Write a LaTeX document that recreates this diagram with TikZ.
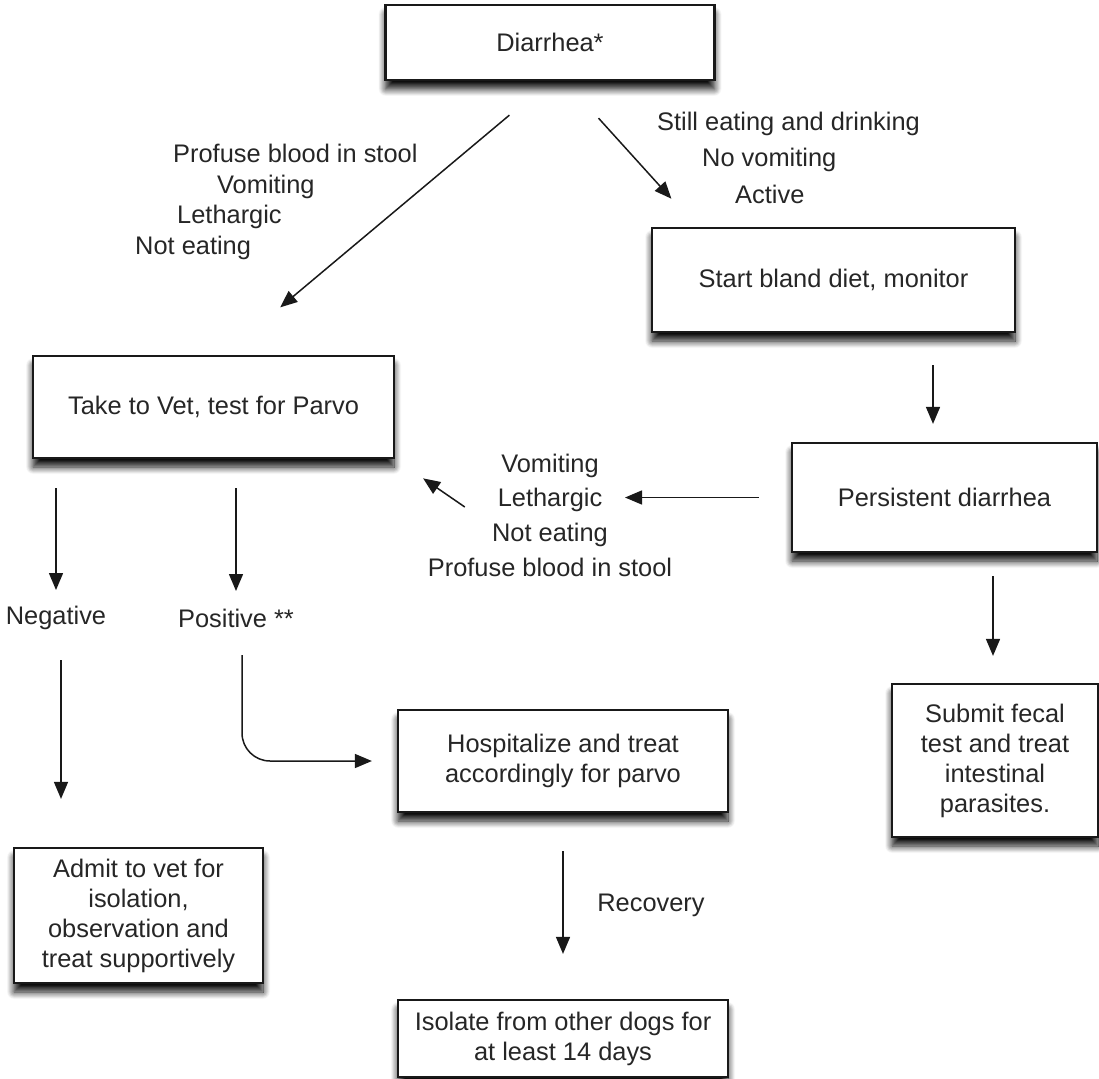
\documentclass[tikz,border=0pt]{standalone}
\usepackage{fontspec}
\setmainfont{Liberation Sans}
\usepackage{tikz}
\usetikzlibrary{shapes.geometric, arrows.meta, positioning, shadows.blur}

\begin{document}
\begin{tikzpicture}[x=1pt, y=1pt, node distance=100pt,
    box/.style={rectangle, draw=black!90, line width=2.2pt, fill=white, text=black!85,
                inner sep=0pt, text centered, font=\fontsize{25.4pt}{30pt}\selectfont,
                blur shadow={shadow xshift=0pt, shadow yshift=-9pt, shadow blur radius=7pt, shadow blur steps=10, shadow opacity=95}},
    note/.style={inner sep=0pt, text=black!85, font=\fontsize{25.4pt}{30pt}\selectfont},
    arrow/.style={->, >={Triangle[length=17pt, width=14pt]}, line width=1.5pt, draw=black!90}]

    \useasboundingbox (0,0) rectangle (1099,-1078);

    % Nodes
    \node[box, minimum width=329pt, minimum height=75pt] (diarrhea) at (550,-42.5) {Diarrhea*};
    \node[box, minimum width=363pt, minimum height=104pt, below of=diarrhea, node distance=237.5pt, xshift=283.5pt] (blanddiet) {Start bland diet, monitor};
    \node[box, minimum width=361pt, minimum height=102pt, below of=diarrhea, node distance=364.5pt, xshift=-336.5pt] (takevet) {Take to Vet, test for Parvo};
    \node[box, minimum width=305pt, minimum height=109pt, below of=blanddiet, node distance=217.5pt, xshift=111pt] (persistent) {Persistent diarrhea};
    \node[box, minimum width=206pt, minimum height=153pt, below of=persistent, node distance=263pt, xshift=50.5pt] (fecaltest) {\parbox{190pt}{\centering Submit fecal\\ test and treat\\ intestinal\\ parasites.}};
    \node[note, below of=takevet, node distance=211pt, xshift=-157.5pt] (negative) {Negative};
    \node[note, right of=negative, node distance=180pt] (positive) {Positive **};
    \node[box, minimum width=330pt, minimum height=102pt, below of=positive, node distance=143pt, xshift=327pt] (hospital) {\parbox{310pt}{\centering Hospitalize and treat\\ accordingly for parvo}};
    \node[box, minimum width=249pt, minimum height=135pt, below of=negative, node distance=297.5pt, xshift=82.5pt] (admitvet) {\parbox{230pt}{\centering Admit to vet for\\ isolation,\\ observation and\\ treat supportively}};
    \node[box, minimum width=330pt, minimum height=77pt, below of=hospital, node distance=277.5pt] (isolate) {\parbox{320pt}{\centering Isolate from other dogs for\\ at least 14 days}};
    \node[note, below of=hospital, node distance=144pt, xshift=88pt] (recovery) {Recovery};
    \node[note, below of=diarrhea, node distance=159.5pt, xshift=-415pt, anchor=west, font=\fontsize{25.4pt}{30.7pt}\selectfont] (redflags) {\parbox{300pt}{\raggedright \hspace*{38pt}Profuse blood in stool\\ \hspace*{82pt}Vomiting\\ \hspace*{42pt}Lethargic\\ Not eating}};
    \node[note, below of=diarrhea, node distance=115pt, xshift=107pt, anchor=west, font=\fontsize{25.4pt}{36.5pt}\selectfont] (stillok) {\parbox{300pt}{\raggedright Still eating and drinking\\ \hspace*{45pt}No vomiting\\ \hspace*{78pt}Active}};
    \node[note, left of=persistent, node distance=394.5pt, yshift=-17.5pt, font=\fontsize{25.4pt}{34.7pt}\selectfont] (worsening) {\parbox{250pt}{\centering Vomiting\\ Lethargic\\ Not eating\\ Profuse blood in stool}};

    % Arrows
    \draw[arrow, shorten <=53pt, shorten >=74pt] (diarrhea.south) -- ([xshift=10pt]takevet.north);
    \draw[arrow, shorten <=50pt, shorten >=38pt] ([xshift=15pt]diarrhea.south) -- ([xshift=46pt]blanddiet.north west);
    \draw[arrow, shorten <=32pt, shorten >=18pt] ([xshift=99.5pt]blanddiet.south) -- ([xshift=-11.5pt]persistent.north);
    \draw[arrow, shorten <=32pt, shorten >=75pt] (persistent.west) -- (persistent.west -| worsening.center);
    \draw[arrow, shorten >=34pt] ([xshift=40pt, yshift=8pt]worsening.west) -- (takevet.south east);
    \draw[arrow, shorten <=29pt, shorten >=28pt] (takevet.south -| negative) -- (negative.center);
    \draw[arrow, shorten <=29pt, shorten >=27pt] (takevet.south -| positive) -- (positive.center);
    \draw[arrow, shorten <=42pt, shorten >=48pt] ([xshift=5pt]negative.center) -- ([xshift=-77.5pt]admitvet.north);
    \draw[arrow, rounded corners=28pt, shorten >=25pt] ([xshift=6pt, yshift=-37pt]positive.center) |- (hospital.west);
    \draw[arrow, shorten <=23pt, shorten >=27pt] ([xshift=48.5pt]persistent.south) -- ([xshift=-2pt]fecaltest.north);
    \draw[arrow, shorten <=38pt, shorten >=45pt] (hospital.south) -- (isolate.north);

\end{tikzpicture}
\end{document}
